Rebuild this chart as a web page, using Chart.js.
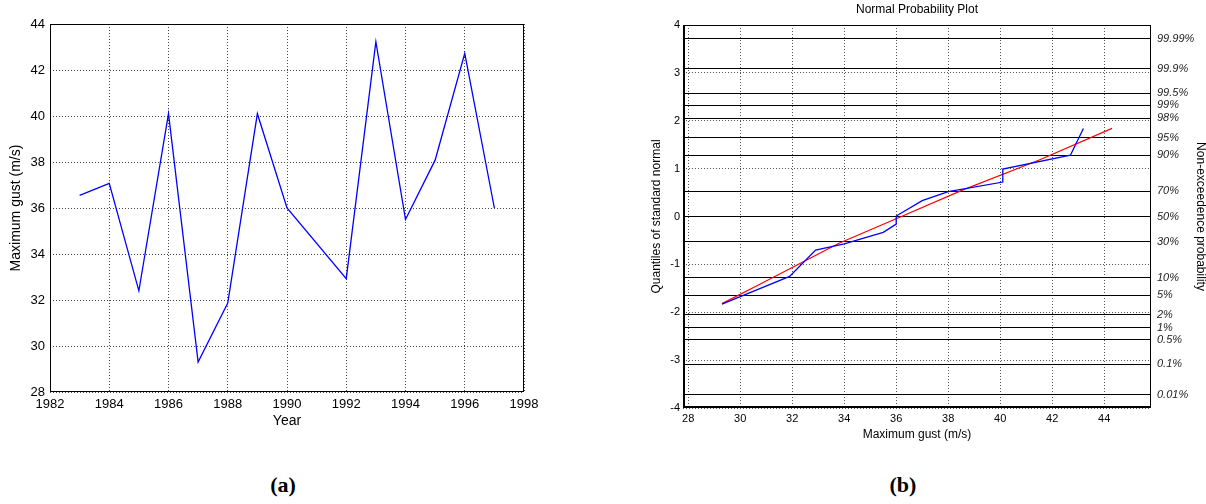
<!DOCTYPE html>
<html>
<head>
<meta charset="utf-8">
<script src="https://cdn.jsdelivr.net/npm/chart.js@4.4.1/dist/chart.umd.min.js"></script>
<style>
    body { margin: 0; background: #fff; width: 1206px; height: 504px; position: relative; overflow: hidden; }
    canvas { position: absolute; top: 0; }
    #chartA { left: 0; }
    #chartB { left: 640px; }
    .cap { position: absolute; top: 472px; width: 60px; text-align: center; font: bold 22px "Liberation Serif", "Times New Roman", serif; color: #000; }
</style>
</head>
<body>
<canvas id="chartA" width="560" height="450"></canvas>
<canvas id="chartB" width="566" height="450"></canvas>
<div class="cap" style="left:253px">(a)</div>
<div class="cap" style="left:873px">(b)</div>
<script>
// (a) annual maximum gust
var years = [1983, 1984, 1985, 1986, 1987, 1988, 1989, 1990, 1992, 1993, 1994, 1995, 1996, 1997];
var maxGust = [36.55, 37.07, 32.4, 40.1, 29.3, 31.87, 40.1, 36.0, 32.93, 43.23, 35.5, 38.08, 42.72, 36.0];

// (b) normal probability plot: sample (blue) and fitted curve (red)
var sampleGust = [29.3, 31.9, 32.9, 34.0, 35.5, 36.0, 36.0, 37.0, 38.0, 40.1, 40.1, 42.7, 43.2];
var sampleQuantile = [-1.83, -1.25, -0.70, -0.57, -0.33, -0.16, 0.01, 0.33, 0.52, 0.72, 0.99, 1.28, 1.84];
var fitGust = [29.3, 30.7, 33.8, 36.2, 38.5, 41.5, 44.3];
var fitQuantile = [-1.82, -1.43, -0.56, 0.0, 0.54, 1.18, 1.84];

var gustTicks = [28, 30, 32, 34, 36, 38, 40, 42, 44];
var probLabels = ['99.99%', '99.9%', '99.5%', '99%', '98%', '95%', '90%', '70%', '50%',
                  '30%', '10%', '5%', '2%', '1%', '0.5%', '0.1%', '0.01%'];
var probQuantile = [3.719, 3.09, 2.576, 2.326, 2.054, 1.645, 1.282, 0.524, 0,
                    -0.524, -1.282, -1.645, -2.054, -2.326, -2.576, -3.09, -3.719];

Chart.defaults.font.family = 'Arial, "Liberation Sans", sans-serif';
Chart.defaults.color = '#000';

// box round the plot area, heavier on left/bottom when asked
var framePlugin = {
    id: 'frame',
    afterDatasetsDraw: function (chart, args, opts) {
        var a = chart.chartArea, ctx = chart.ctx;
        ctx.save();
        ctx.strokeStyle = '#000';
        ctx.lineWidth = 1;
        ctx.strokeRect(a.left + 0.5, a.top + 0.5, a.right - a.left - 1, a.bottom - a.top - 1);
        if (opts.heavy) {
            ctx.lineWidth = 2;
            ctx.beginPath();
            ctx.moveTo(a.left + 1, a.top);
            ctx.lineTo(a.left + 1, a.bottom - 1);
            ctx.lineTo(a.right, a.bottom - 1);
            ctx.stroke();
        }
        ctx.restore();
    }
};

function xy(xs, ys) {
    return xs.map(function (v, i) { return { x: v, y: ys[i] }; });
}

// Time series
new Chart(document.getElementById('chartA'), {
    type: 'line',
    data: {
        datasets: [{
            data: xy(years, maxGust),
            borderColor: '#0000ff',
            borderWidth: 1.3,
            pointRadius: 0,
            tension: 0
        }]
    },
    options: {
        responsive: false,
        animation: false,
        layout: { padding: { top: 24, right: 36, left: 0, bottom: 0 } },
        plugins: { legend: { display: false }, tooltip: { enabled: false }, frame: {} },
        scales: {
            x: {
                type: 'linear', min: 1982, max: 1998,
                ticks: { stepSize: 2, padding: 5, font: { size: 13 }, callback: function (v) { return String(v); } },
                grid: { color: '#444', drawTicks: false },
                border: { display: false, dash: [1, 2] },
                title: { display: true, text: 'Year', font: { size: 14 }, padding: { top: 0, bottom: 20 } },
                afterFit: function (s) { s.height = 58; }
            },
            y: {
                min: 28, max: 44,
                ticks: { stepSize: 2, padding: 5, font: { size: 13 } },
                grid: { color: '#444', drawTicks: false },
                border: { display: false, dash: [1, 2] },
                title: { display: true, text: 'Maximum gust (m/s)', font: { size: 14 }, padding: { top: 7.5, bottom: 0 } },
                afterFit: function (s) { s.width = 50; }
            }
        }
    },
    plugins: [framePlugin]
});

// Normal probability plot
new Chart(document.getElementById('chartB'), {
    type: 'scatter',
    data: {
        datasets: [{
            data: xy(sampleGust, sampleQuantile),
            showLine: true,
            borderColor: '#0000ff',
            borderWidth: 1.3,
            pointRadius: 0
        }, {
            data: xy(fitGust, fitQuantile),
            showLine: true,
            borderColor: '#ff0000',
            borderWidth: 1.2,
            pointRadius: 0
        }]
    },
    options: {
        responsive: false,
        animation: false,
        layout: { padding: 0 },
        plugins: {
            legend: { display: false },
            tooltip: { enabled: false },
            title: {
                display: true, fullSize: false, text: 'Normal Probability Plot',
                font: { size: 12, weight: 'normal' }, color: '#000',
                padding: { top: 2.8, bottom: 7.8 }
            },
            frame: { heavy: true }
        },
        scales: {
            x: {
                type: 'linear', min: 27.8, max: 45.8,
                afterBuildTicks: function (s) { s.ticks = gustTicks.map(function (v) { return { value: v }; }); },
                ticks: { padding: 4, font: { size: 11 } },
                grid: { color: '#555', drawTicks: false },
                border: { display: false, dash: [1, 2] },
                title: { display: true, text: 'Maximum gust (m/s)', font: { size: 12 }, padding: { top: 0, bottom: 8.5 } },
                afterFit: function (s) { s.height = 42; }
            },
            y: {
                position: 'left', min: -4, max: 4,
                ticks: { stepSize: 1, padding: 3, font: { size: 11 } },
                grid: { color: '#555', drawTicks: false },
                border: { display: false, dash: [1, 2] },
                title: { display: true, text: 'Quantiles of standard normal', font: { size: 12 }, padding: { top: 9.8, bottom: 0 } },
                afterFit: function (s) { s.width = 43; }
            },
            y2: {
                position: 'right', min: -4, max: 4,
                afterBuildTicks: function (s) { s.ticks = probQuantile.map(function (v) { return { value: v }; }); },
                ticks: {
                    autoSkip: false, padding: 6, font: { size: 11, style: 'italic' }, color: '#222',
                    callback: function (v, i) { return probLabels[i]; }
                },
                grid: { color: '#000', drawTicks: false },
                border: { display: false },
                title: { display: true, text: 'Non-exceedence probability', font: { size: 12 }, padding: { top: -2, bottom: 0 } },
                afterFit: function (s) { s.width = 55; }
            }
        }
    },
    plugins: [framePlugin]
});
</script>
</body>
</html>
